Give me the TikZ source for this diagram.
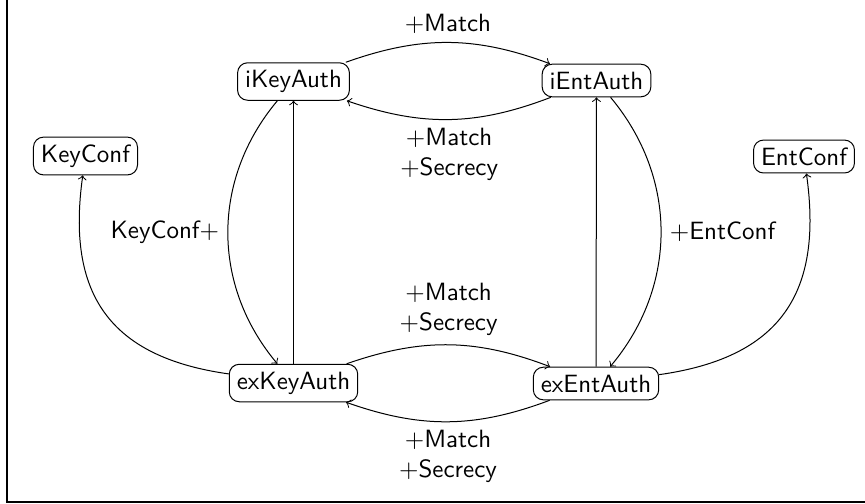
\documentclass[tikz,border=0pt]{standalone}
\usetikzlibrary{arrows}
\begin{document}
\begin{tikzpicture}[x=0.4pt,y=-0.4pt,
  statebox/.style={draw, rounded corners=4pt, font=\sffamily, inner sep=3pt},
  lbl/.style={font=\sffamily, align=center},
  every path/.style={line width=0.4pt}]
\useasboundingbox (0,0) rectangle (865,503);
% frame
\draw[line width=0.6pt] (7,0) -- (7,502) -- (865,502);

% states
\node[statebox] (iKeyAuth)  at (293.5,81.5) {iKeyAuth};
\node[statebox] (iEntAuth)  at (596.5,80.5) {iEntAuth};
\node[statebox] (KeyConf)   at (85.5,156)   {KeyConf};
\node[statebox] (EntConf)   at (804,156.5)  {EntConf};
\node[statebox] (exKeyAuth) at (293.5,383)  {exKeyAuth};
\node[statebox] (exEntAuth) at (596,383.5)  {exEntAuth};

% horizontal transitions
\draw[->] (iKeyAuth) to[bend left=20] node[lbl, above] {$+$Match} (iEntAuth);
\draw[->] (iEntAuth) to[bend left=20] node[lbl, below] {$+$Match\\$+$Secrecy} (iKeyAuth);
\draw[->] (exKeyAuth) to[bend left=20] node[lbl, above] {$+$Match\\$+$Secrecy} (exEntAuth);
\draw[->] (exEntAuth) to[bend left=20] node[lbl, below] {$+$Match\\$+$Secrecy} (exKeyAuth);

% vertical transitions
\draw[->] (iKeyAuth) to[bend right=40] node[lbl, left] {KeyConf$+$} (exKeyAuth);
\draw[->] (exKeyAuth) -- (iKeyAuth);
\draw[->] (iEntAuth) to[bend left=40] node[lbl, right] {$+$EntConf} (exEntAuth);
\draw[->] (exEntAuth) -- (iEntAuth);

% confirmation transitions
\draw[->] (exKeyAuth) to[out=172, in=-98, looseness=1.25] (KeyConf);
\draw[->] (exEntAuth) to[out=8, in=-82, looseness=1.25] (EntConf);
\end{tikzpicture}
\end{document}
